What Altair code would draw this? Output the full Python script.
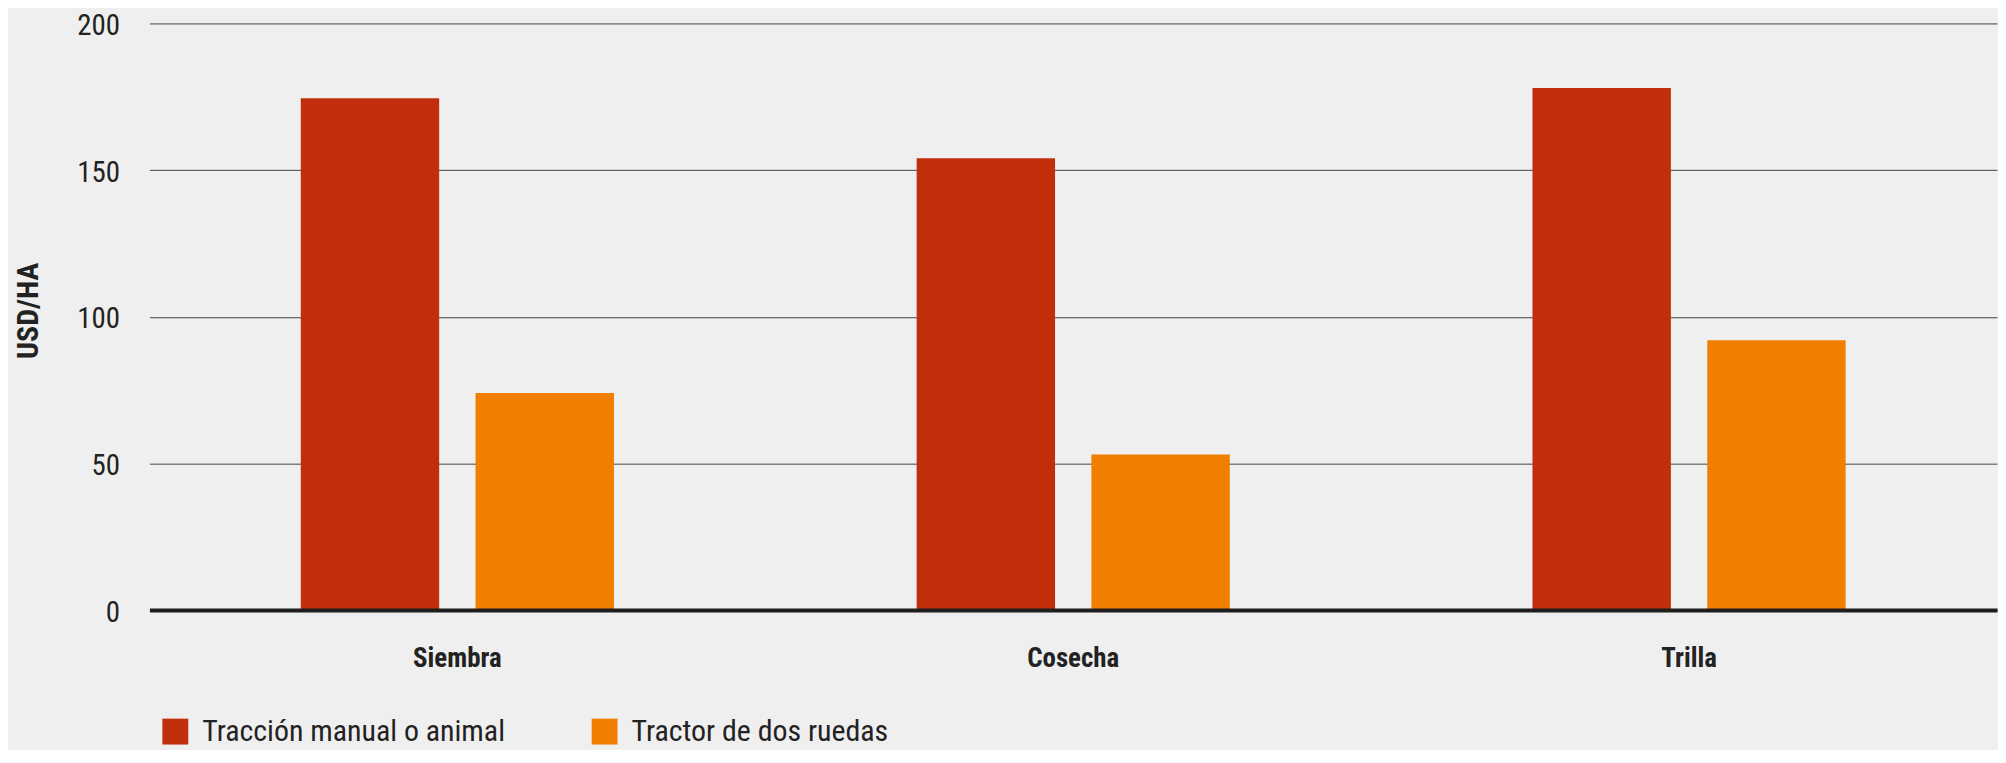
import altair as alt
import pandas as pd

categories = ["Siembra", "Cosecha", "Trilla"]
series = ["Tracción manual o animal", "Tractor de dos ruedas"]
manual = [174.5, 154, 178]
tractor = [74, 53, 92]
colors = ["#C12E0B", "#F07F00"]
y_ticks = [0, 50, 100, 150, 200]

rows = []
for c, m, t in zip(categories, manual, tractor):
    rows.append({"cat": c, "serie": series[0], "valor": m})
    rows.append({"cat": c, "serie": series[1], "valor": t})
df = pd.DataFrame(rows)

FONT = "Roboto Condensed, Liberation Sans Narrow, Roboto, sans-serif"

chart = alt.Chart(df).mark_bar().encode(
    x=alt.X(
        "cat:N", sort=categories, title=None,
        scale=alt.Scale(paddingInner=0, paddingOuter=0),
        axis=alt.Axis(
            labelAngle=0, domain=True, domainColor="#1e1e1e", domainWidth=4,
            ticks=False, tickSize=0, labelPadding=36, labelFontSize=27,
            labelFontWeight="bold", labelColor="#222222", labelFont=FONT,
            grid=False, zindex=1,
        ),
    ),
    xOffset=alt.XOffset(
        "serie:N", sort=series,
        scale=alt.Scale(paddingInner=0.208, paddingOuter=0.866),
    ),
    y=alt.Y(
        "valor:Q", title="USD/HA",
        scale=alt.Scale(domain=[0, 200], nice=False),
        axis=alt.Axis(
            values=y_ticks, domain=False, ticks=False, tickSize=0,
            labelPadding=30, labelFontSize=29, labelColor="#222222",
            labelFont=FONT, labelOffset=2, gridColor="#444444", gridWidth=1,
            titleFont=FONT, titleFontSize=30, titleFontWeight="bold",
            titleColor="#222222", titleAngle=270, titleBaseline="alphabetic",
            titleAlign="center", titleX=-112, titleY=288,
        ),
    ),
    color=alt.Color(
        "serie:N", sort=series,
        scale=alt.Scale(domain=series, range=colors),
        legend=alt.Legend(
            orient="none", legendX=11, legendY=696, direction="horizontal",
            title=None, symbolType="square", symbolSize=676,
            symbolStrokeWidth=0, labelFontSize=30, labelFont=FONT,
            labelColor="#222222", labelOffset=12, columnPadding=84,
            padding=0, labelLimit=600,
        ),
    ),
).properties(
    width=1855,
    height=589,
    padding={"left": 142, "top": 14, "right": 1, "bottom": 139},
    autosize=alt.AutoSizeParams(type="none"),
    background="#EFEFEF",
).configure_view(strokeWidth=0)

chart.save("out.html", embed_options={"renderer": "svg", "actions": False})
